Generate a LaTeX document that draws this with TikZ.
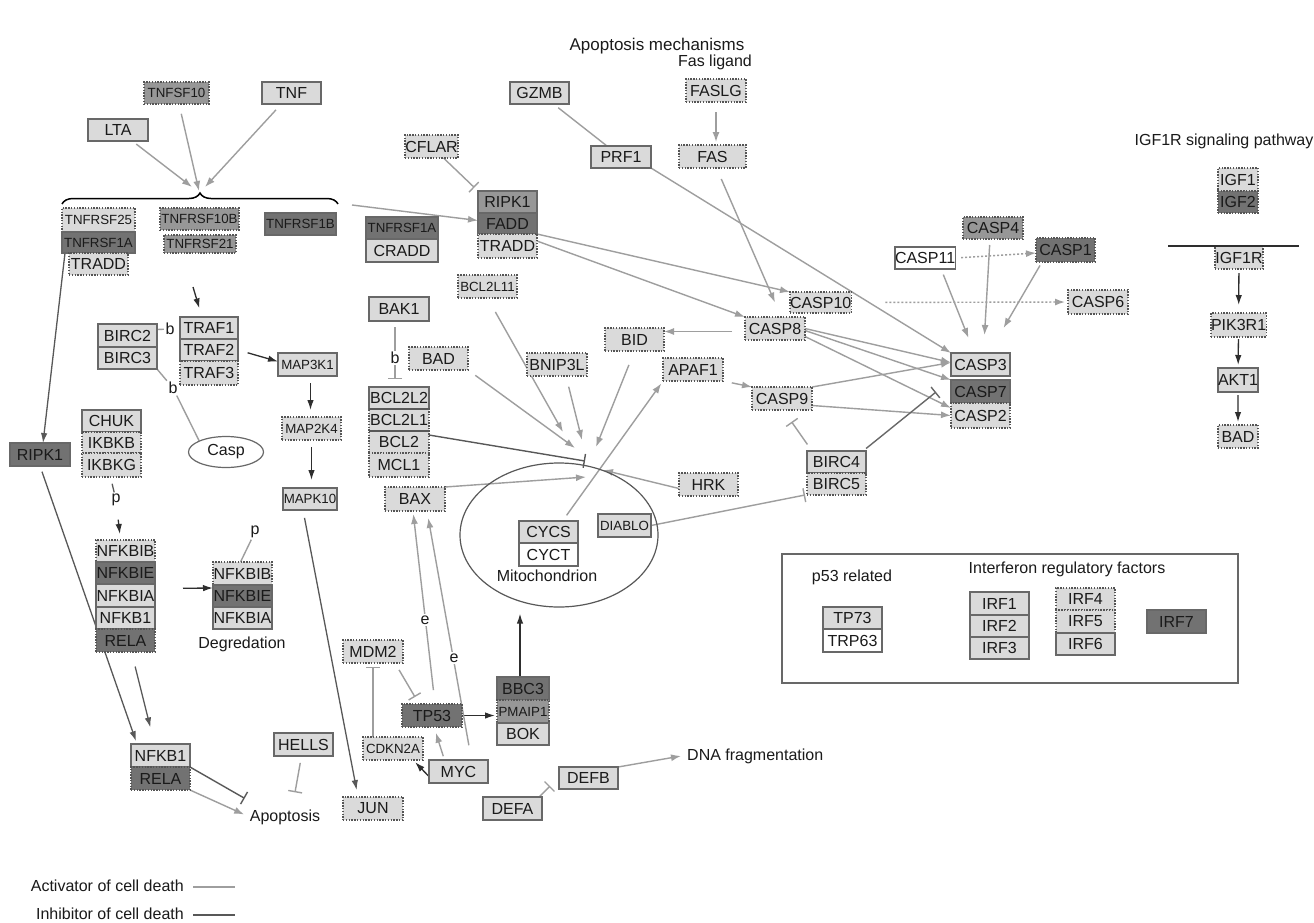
\documentclass[tikz,border=0pt]{standalone}
\usepackage{fontspec}
\setmainfont{Liberation Sans}
\usetikzlibrary{arrows.meta,shapes.geometric,decorations.pathreplacing}
\definecolor{lightf}{HTML}{DADADA}
\definecolor{medf}{HTML}{979797}
\definecolor{darkf}{HTML}{727272}
\definecolor{bordc}{HTML}{686868}
\definecolor{dotc}{HTML}{555555}
\definecolor{actc}{HTML}{9E9E9E}
\definecolor{inhc}{HTML}{585858}
\definecolor{blkc}{HTML}{2E2E2E}
\definecolor{txtc}{HTML}{1A1A1A}
\pgfdeclarelayer{back}
\pgfdeclarelayer{bg}
\pgfsetlayers{back,bg,main}
\newcommand\bx[7]{\node[#6,anchor=north west,minimum width={(#4-#2)*1pt},minimum height={(#5-#3)*1pt}] (#1) at (#2,#3) {#7};}
\tikzset{
  gbox/.style={inner sep=0pt, outer sep=0pt, text=txtc, font=\fontsize{16}{18}\selectfont, line width=1.2pt},
  bxl/.style={gbox, fill=lightf, draw=bordc},
  bxld/.style={gbox, fill=lightf, draw=dotc, dash pattern=on 1.4pt off 1.4pt},
  bxm/.style={gbox, fill=medf, draw=bordc},
  bxmd/.style={gbox, fill=medf, draw=dotc, dash pattern=on 1.4pt off 1.4pt},
  bxk/.style={gbox, fill=darkf, draw=bordc},
  bxkd/.style={gbox, fill=darkf, draw=dotc, dash pattern=on 1.4pt off 1.4pt},
  bxw/.style={gbox, fill=white, draw=bordc},
  smalltxt/.style={font=\fontsize{13.3}{15}\selectfont},
  lbl/.style={inner sep=0pt, text=txtc, font=\fontsize{16}{18}\selectfont, text height=11.5pt, text depth=3.4pt},
  tag/.style={inner sep=1.5pt, fill=white, text=txtc, font=\fontsize{16}{18}\selectfont},
  act/.style={draw=actc, line width=1.4pt, -{Latex[length=10pt,width=7pt]}},
  actdot/.style={act, dash pattern=on 2pt off 2pt},
  actln/.style={draw=actc, line width=1.4pt},
  actinh/.style={draw=actc, line width=1.4pt, -{Bar[width=14pt,line width=1.4pt]}},
  darkinh/.style={draw=inhc, line width=1.4pt, -{Bar[width=14pt,line width=1.4pt]}},
  midinh/.style={draw=bordc, line width=1.4pt, -{Bar[width=14pt,line width=1.4pt]}},
  dkarr/.style={draw=inhc, line width=1.3pt, -{Latex[length=10pt,width=6.5pt]}},
  blkarr/.style={draw=blkc, line width=1.3pt, -{Latex[length=10pt,width=6.5pt]}},
  dkln/.style={draw=inhc, line width=1.3pt},
}
\begin{document}
\begin{tikzpicture}[x=1pt,y=-1pt]
\useasboundingbox (0,0) rectangle (1314,922);
\begin{pgfonlayer}{back}
\fill[white] (0,0) rectangle (1314,922);
\end{pgfonlayer}

% ---------- text labels ----------
\node[lbl, font=\fontsize{17}{19}\selectfont] (title) at (657,46) {Apoptosis mechanisms};
\node[lbl] (fasl) at (715,62) {Fas ligand};
\node[lbl] (igft) at (1224,141) {IGF1R signaling pathway};
\node[lbl] (p53t) at (852,577) {p53 related};
\node[lbl] (irft) at (1067,569) {Interferon regulatory factors};
\node[lbl] (degr) at (242,644) {Degredation};
\node[lbl] (mitot) at (547,577) {Mitochondrion};
\node[lbl, anchor=west] (dnaf) at (687,756) {DNA fragmentation};
\node[lbl] (apop) at (285,817) {Apoptosis};
\node[lbl, anchor=east] (lgact) at (184,887) {Activator of cell death};
\node[lbl, anchor=east] (lginh) at (184,915) {Inhibitor of cell death};

% ---------- boxes: TNF part ----------
\bx{tnfsf10}{144}{82}{209}{104}{bxmd,smalltxt}{TNFSF10}
\bx{tnf}{262}{82}{321}{104}{bxl}{TNF}
\bx{lta}{88}{119}{148}{141}{bxl}{LTA}
\bx{tnfrsf25}{62}{208}{135}{232}{bxld,smalltxt}{TNFRSF25}
\bx{tnfrsf1a}{62}{232}{135}{253}{bxk,smalltxt}{TNFRSF1A}
\bx{traddl}{69}{253}{128}{275}{bxld}{TRADD}
\bx{tnfrsf10b}{160}{208}{239}{230}{bxmd,smalltxt}{TNFRSF10B}
\bx{tnfrsf21}{164}{235}{236}{253}{bxmd,smalltxt}{TNFRSF21}
\bx{tnfrsf1b}{265}{213}{336}{235}{bxk,smalltxt}{TNFRSF1B}

\bx{gzmb}{510}{82}{569}{104}{bxl}{GZMB}
\bx{cflar}{405}{135}{458}{158}{bxld}{CFLAR}
\bx{prf1}{591}{146}{651}{168}{bxl}{PRF1}
\bx{ripk1r}{478}{191}{537}{213}{bxm}{RIPK1}
\bx{fadd}{478}{213}{537}{234}{bxk}{FADD}
\bx{traddr}{478}{234}{537}{258}{bxld}{TRADD}
\bx{tnfrsf1a2}{366}{217}{438}{239}{bxk,smalltxt}{TNFRSF1A}
\bx{cradd}{366}{239}{438}{262}{bxl}{CRADD}
\bx{bcl2l11}{458}{275}{517}{298}{bxld,smalltxt}{BCL2L11}
\bx{bak1}{369}{297}{429}{321}{bxl}{BAK1}
\bx{bad}{409}{347}{468}{370}{bxld}{BAD}
\bx{bcl2l2}{369}{387}{429}{409}{bxl}{BCL2L2}
\bx{bcl2l1}{369}{409}{429}{431}{bxld}{BCL2L1}
\bx{bcl2}{369}{431}{429}{453}{bxld}{BCL2}
\bx{mcl1}{369}{453}{429}{477}{bxld}{MCL1}
\draw[draw=inhc, line width=2.4pt] (bcl2l2.south west) -- (bcl2l2.south east);
\draw[draw=inhc, line width=2.4pt] (bcl2l1.south west) -- (bcl2l1.south east);
\bx{bax}{385}{487}{445}{511}{bxld}{BAX}
\bx{bnip3l}{527}{353}{587}{376}{bxld}{BNIP3L}
\bx{bid}{605}{328}{664}{351}{bxld}{BID}
\bx{apaf1}{663}{358}{723}{381}{bxld}{APAF1}
\node[ellipse, draw=inhc, line width=1.2pt, minimum width=198pt, minimum height=144pt, inner sep=0pt] (mito) at (559,535) {};
\bx{cycs}{519}{521}{578}{543}{bxl}{CYCS}
\bx{cyct}{519}{543}{578}{566}{bxw}{CYCT}
\bx{diablo}{598}{514}{651}{537}{bxl,smalltxt}{DIABLO}
\bx{hrk}{679}{473}{738}{496}{bxld}{HRK}

% ---------- caspases ----------
\bx{faslg}{686}{79}{746}{102}{bxld}{FASLG}
\bx{fas}{679}{145}{746}{168}{bxld}{FAS}
\bx{casp8}{745}{317}{805}{340}{bxld}{CASP8}
\bx{casp10}{790}{292}{851}{313}{bxld}{CASP10}
\bx{casp9}{752}{387}{812}{410}{bxld}{CASP9}
\bx{birc4}{807}{451}{866}{473}{bxl,line width=2pt}{BIRC4}
\bx{birc5}{807}{473}{866}{495}{bxld}{BIRC5}
\bx{casp3}{951}{353}{1010}{376}{bxl}{CASP3}
\bx{casp7}{951}{380}{1010}{403}{bxk}{CASP7}
\bx{casp2}{951}{403}{1010}{428}{bxld}{CASP2}
\bx{casp11}{895}{247}{954}{269}{bxw}{CASP11}
\bx{casp4}{963}{217}{1023}{239}{bxmd}{CASP4}
\bx{casp1}{1036}{238}{1095}{262}{bxkd}{CASP1}
\bx{casp6}{1068}{290}{1128}{314}{bxld}{CASP6}

% ---------- IGF1R ----------
\bx{igf1}{1218}{168}{1258}{191}{bxld}{IGF1}
\bx{igf2}{1218}{191}{1258}{213}{bxkd}{IGF2}
\bx{igf1r}{1215}{246}{1263}{269}{bxld}{IGF1R}
\bx{pik3r1}{1211}{313}{1266}{337}{bxld}{PIK3R1}
\bx{akt1}{1218}{368}{1258}{392}{bxl}{AKT1}
\bx{badr}{1218}{425}{1258}{448}{bxld}{BAD}
\draw[blkc, line width=1.3pt] (1168,246) -- (1299,246);

% ---------- left part ----------
\bx{birc2}{98}{324}{157}{347}{bxl}{BIRC2}
\bx{birc3}{98}{347}{157}{369}{bxl}{BIRC3}
\bx{traf1}{180}{317}{238}{339}{bxl}{TRAF1}
\bx{traf2}{180}{339}{238}{361}{bxl}{TRAF2}
\bx{traf3}{180}{361}{238}{385}{bxld}{TRAF3}
\bx{map3k1}{278}{353}{337}{376}{bxl,smalltxt}{MAP3K1}
\bx{map2k4}{282}{417}{341}{440}{bxld,smalltxt}{MAP2K4}
\bx{mapk10}{283}{488}{337}{510}{bxl,smalltxt}{MAPK10}
\node[ellipse, draw=bordc, line width=1.2pt, fill=white, minimum width=75pt, minimum height=31pt, inner sep=0pt, text=txtc, font=\fontsize{16}{18}\selectfont] (casp) at (226,452) {Casp};
\bx{chuk}{82}{410}{141}{432}{bxl}{CHUK}
\bx{ikbkb}{82}{432}{141}{453}{bxld}{IKBKB}
\bx{ikbkg}{82}{453}{141}{477}{bxld}{IKBKG}
\bx{ripk1l}{10}{443}{70}{466}{bxk}{RIPK1}
\bx{nfkbibt}{96}{540}{155}{562}{bxld}{NFKBIB}
\bx{nfkbiet}{96}{562}{155}{584}{bxk}{NFKBIE}
\bx{nfkbiat}{96}{584}{155}{607}{bxl}{NFKBIA}
\bx{nfkb1t}{96}{607}{155}{629}{bxl}{NFKB1}
\bx{relat}{96}{629}{155}{652}{bxkd}{RELA}
\bx{nfkbibr}{213}{562}{272}{585}{bxld}{NFKBIB}
\bx{nfkbier}{213}{585}{272}{607}{bxk}{NFKBIE}
\bx{nfkbiar}{213}{607}{272}{629}{bxl}{NFKBIA}
\bx{nfkb1l}{131}{744}{190}{767}{bxl}{NFKB1}
\bx{relal}{131}{767}{190}{790}{bxkd}{RELA}
\bx{hells}{274}{733}{333}{756}{bxl}{HELLS}
\bx{jun}{343}{797}{403}{820}{bxld}{JUN}
\bx{mdm2}{343}{640}{403}{663}{bxld}{MDM2}
\bx{tp53}{402}{704}{462}{727}{bxkd}{TP53}
\bx{bbc3}{497}{677}{549}{700}{bxk}{BBC3}
\bx{pmaip1}{497}{700}{549}{723}{bxmd,smalltxt}{PMAIP1}
\bx{bok}{497}{723}{549}{745}{bxl}{BOK}
\bx{cdkn2a}{363}{737}{423}{760}{bxld,smalltxt}{CDKN2A}
\bx{myc}{429}{760}{488}{783}{bxl}{MYC}
\bx{defa}{483}{797}{542}{820}{bxl}{DEFA}
\bx{defb}{559}{767}{618}{789}{bxl}{DEFB}

% ---------- panel ----------
\draw[draw=bordc, line width=1.2pt] (782,554) rectangle (1238,683);
\bx{tp73}{823}{607}{882}{629}{bxl}{TP73}
\bx{trp63}{823}{629}{882}{652}{bxw}{TRP63}
\bx{irf1}{970}{592}{1029}{615}{bxl}{IRF1}
\bx{irf2}{970}{615}{1029}{637}{bxl}{IRF2}
\bx{irf3}{970}{637}{1029}{659}{bxl}{IRF3}
\bx{irf4}{1056}{588}{1115}{610}{bxld}{IRF4}
\bx{irf5}{1056}{610}{1115}{633}{bxld}{IRF5}
\bx{irf6}{1056}{633}{1115}{655}{bxl}{IRF6}
\bx{irf7}{1147}{610}{1206}{633}{bxk}{IRF7}

% ---------- small tags ----------
\node[tag] (b1) at (170,329) {b};
\node[tag] (b2) at (173,388) {b};
\node[tag] (b3) at (395,358) {b};
\node[tag] (p1) at (116,500) {p};
\node[tag] (p2) at (255,532) {p};
\node[tag] (e1) at (425,620) {e};
\node[tag] (e2) at (454,658) {e};

% ---------- brace ----------
\draw[black, line width=1.5pt, decorate, decoration={brace, amplitude=11pt}] (62,204) -- (338,204);

% ---------- named free ends ----------
\coordinate (tin1) at (192,187);
\coordinate (tin2) at (199,191);
\coordinate (tin3) at (205,187);
\coordinate (braceout) at (352,205);
\coordinate (t11) at (563,432);
\coordinate (tbad) at (575,448);
\coordinate (tbnip) at (582,440);
\coordinate (tbid) at (596,447);
\coordinate (tbax) at (586,477);
\coordinate (thrk) at (603,470);
\coordinate (tbcl2) at (585,461);
\coordinate (trafin) at (193,287);
\coordinate (c8l) at ([yshift=-3pt]casp8.west);
\coordinate (bbtop) at ([xshift=-3pt]bbc3.north);

% ---------- connectors ----------
\begin{pgfonlayer}{bg}
\draw[act, shorten <=5pt] (lta) -- (tin1);
\draw[act, shorten <=10pt] (tnfsf10) -- (tin2);
\draw[act, shorten <=8pt] (tnf) -- (tin3);
\draw[act] (braceout) -- ([yshift=3pt]fadd.west);
\draw[actinh, shorten >=5pt] (cflar) -- (ripk1r.north west);
\draw[actln, shorten <=6pt, shorten >=1pt] (gzmb) -- (prf1);
\draw[act] (prf1.south east) -- (casp3.north west);
\draw[act, shorten <=10pt, shorten >=3pt] (faslg.south) -- (faslg.south |- fas.north);
\draw[act, shorten <=12pt] ([xshift=4pt]fas.south) -- ([xshift=-15pt]casp10.west);
\draw[act] (fadd.south east) -- (casp10.north west);
\draw[act] ([yshift=-7pt]traddr.north east) -- (casp8.north west);
\draw[act, shorten <=13pt] (c8l) -- (c8l -| bid.east);
\draw[act, shorten <=9pt] (apaf1.south east) -- (casp9.north west);
\draw[act] (casp8.east) -- ([yshift=2pt]casp3.west);
\draw[act] ([yshift=-2pt]casp8.east) -- (casp7.north west);
\draw[act] ([yshift=-8pt]casp8.east) -- ([yshift=-5pt]casp2.north west);
\draw[act] (casp9.north east) -- ([yshift=2pt]casp3.west);
\draw[act] ([yshift=-7pt]casp9.east) -- (casp2.west);
\draw[act, shorten <=6pt] ([xshift=16pt]casp11.south) -- ([xshift=-12pt,yshift=15pt]casp3.north);
\draw[act, shorten <=6pt] ([xshift=-3pt]casp4.south) -- ([xshift=4pt,yshift=18pt]casp3.north);
\draw[act, shorten <=4pt] ([xshift=6pt]casp1.south west) -- ([xshift=23pt,yshift=25pt]casp3.north);
\draw[actdot, shorten <=6pt] (casp11.east) -- ([yshift=-3pt]casp1.west);
\draw[actdot, shorten <=34pt, shorten >=3pt] (casp10.east) -- (casp6.west);

\draw[act, shorten <=16pt] (bcl2l11.south) -- (t11);
\draw[act, shorten <=9pt] (bad.south east) -- (tbad);
\draw[act, shorten <=11pt] ([xshift=9pt]bnip3l.south) -- (tbnip);
\draw[act, shorten <=15pt] (bid.south) -- (tbid);
\draw[act] (bax.north east) -- (tbax);
\draw[act] ([yshift=-4pt]hrk.west) -- (thrk);
\draw[act, shorten <=7pt, shorten >=3pt] ([xshift=14pt]cycs.north) -- (apaf1.south west);
\draw[darkinh] ([yshift=-4pt]bcl2.north east) -- (tbcl2);
\draw[actinh, shorten <=6pt, shorten >=8pt] ([xshift=-4pt]bak1.south) -- ([xshift=-4pt]bcl2l2.north);
\draw[actinh, shorten <=8pt, shorten >=1pt] ([xshift=5pt]birc4.north west) -- ([xshift=9pt,yshift=-11pt]casp9.south);
\draw[midinh, shorten <=4pt] ([xshift=-3pt]birc4.north east) -- ([xshift=-15pt,yshift=-12pt]casp7.north west);
\draw[actinh] (diablo.east) -- ([xshift=-2pt]birc5.south west);

\draw[dkarr] ([xshift=3pt]tnfrsf1a.south west) -- ([xshift=3pt]ripk1l.north);
\draw[dkarr, shorten <=6pt, shorten >=3pt] (ripk1l.south) -- ([xshift=6pt]nfkb1l.north west);
\draw[dkarr, shorten <=15pt, shorten >=17pt] ([xshift=6pt]relat.south) -- ([xshift=-6pt]nfkb1l.north);
\draw[blkarr, shorten >=9pt] (trafin) -- ([xshift=-7pt]traf1.north);
\draw[blkarr, shorten <=10pt] (traf2.east) -- ([yshift=3pt]map3k1.west);
\draw[blkarr, shorten <=7pt, shorten >=7pt] ([xshift=3pt]map3k1.south) -- ([xshift=-1pt]map2k4.north);
\draw[blkarr, shorten <=7pt, shorten >=8pt] (map2k4.south) -- (map2k4.south |- mapk10.north);
\draw[dkarr, shorten <=8pt, shorten >=7pt] ([xshift=-7pt]mapk10.south) -- ([xshift=-15pt]jun.north);
\draw[actln] ([yshift=6pt]birc2.east) -- (b1);
\draw[actln] (birc3.south east) -- (b2);
\draw[actln] (b2) -- (casp.north west);
\draw[dkln, shorten <=7pt] ([xshift=-1pt]ikbkg.south) -- (p1);
\draw[blkarr, shorten <=12pt, shorten >=6pt] (p1) -- ([xshift=-5pt]nfkbibt.north);
\draw[blkarr, shorten <=28pt] ([yshift=7pt]nfkbiat.east) -- ([yshift=-3pt]nfkbier.north west);
\draw[actln] (p2) -- ([xshift=-2pt]nfkbibr.north);
\draw[darkinh] (nfkb1l.south east) -- ([xshift=-5pt,yshift=11pt]apop.north west);
\draw[act, shorten >=6pt] (relal.south east) -- (apop.west);
\draw[actinh, shorten <=7pt] ([xshift=-2pt]hells.south) -- ([xshift=10pt,yshift=17pt]apop.north);

\draw[actinh, shorten <=8pt] ([xshift=-8pt]mdm2.south east) -- ([xshift=13pt,yshift=7pt]tp53.north west);
\draw[actinh, shorten >=4pt] ([xshift=-20pt]cdkn2a.north) -- (mdm2.south);
\draw[blkarr, shorten >=2pt] (tp53.east) -- (tp53.east -| pmaip1.west);
\draw[blkarr, shorten >=6pt] (bbtop) -- (bbtop |- mito.south);
\draw[blkarr, shorten >=3pt] ([yshift=-5pt]myc.west) -- ([xshift=-10pt]cdkn2a.south east);
\draw[act, shorten <=4pt, shorten >=6pt] ([xshift=-14pt]myc.north) -- ([xshift=2pt]tp53.south);
\draw[act, shorten <=14pt, shorten >=3pt] ([xshift=3pt]tp53.north) -- ([xshift=-2pt]bax.south);
\draw[act, shorten <=15pt, shorten >=7pt] ([xshift=13pt]myc.north) -- ([xshift=12pt]bax.south);
\draw[actinh, shorten <=1pt] ([xshift=-3pt]defa.north east) -- ([xshift=-9pt,yshift=-19pt]defb.north west);
\draw[act] (defb.north east) -- ([xshift=-6pt]dnaf.west);

\draw[blkarr, shorten <=4pt, shorten >=8pt] (igf1r) -- (pik3r1);
\draw[blkarr, shorten <=2pt, shorten >=3pt] (pik3r1) -- (akt1);
\draw[blkarr, shorten <=3pt, shorten >=3pt] (akt1) -- (badr);

\draw[actln] ([xshift=9pt]lgact.east) -- ++(42,0);
\draw[dkln] ([xshift=9pt]lginh.east) -- ++(42,0);
\end{pgfonlayer}
\end{tikzpicture}
\end{document}
